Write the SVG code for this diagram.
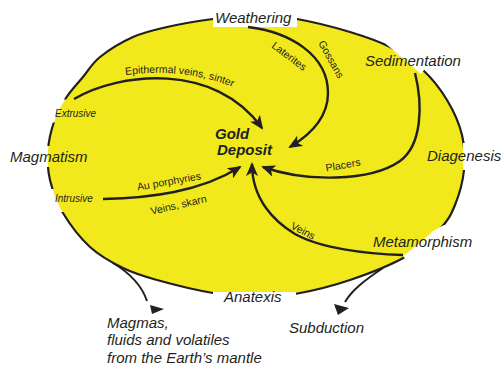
<svg xmlns="http://www.w3.org/2000/svg" width="503" height="366" viewBox="0 0 503 366">
<style>
.big{font-family:"Liberation Sans",Arial,sans-serif;font-style:italic;font-size:15px;fill:#231f20}
.sm{font-family:"Liberation Sans",Arial,sans-serif;font-size:10.5px;fill:#231f20}
.smi{font-family:"Liberation Sans",Arial,sans-serif;font-style:italic;font-size:10px;fill:#231f20}
.gold{font-family:"Liberation Sans",Arial,sans-serif;font-style:italic;font-weight:bold;font-size:15px;fill:#231f20}
.arr{fill:none;stroke:#231f20;stroke-width:2.4;marker-end:url(#ah)}
.br{fill:none;stroke:#231f20;stroke-width:2}
.wh{fill:#ffffff}
</style>
<defs>
<marker id="ah" viewBox="0 0 14 12" markerWidth="14" markerHeight="12" refX="12" refY="6" orient="auto" markerUnits="userSpaceOnUse">
<path d="M0,0 L14,6 L0,12 L3.5,6 z" fill="#231f20"/>
</marker>
<path id="shape" d="M167,27 C180.3,24 198.3,21 213,19 C227.7,17 241,15 255,15 C269,15 281.2,16.2 297,19 C312.8,21.8 334.5,27.3 350,32 C365.5,36.7 377.8,40.7 390,47 C402.2,53.3 413.5,61.2 423,70 C432.5,78.8 440.5,89.2 447,100 C453.5,110.8 459.2,123.3 462,135 C464.8,146.7 465.2,158.3 464,170 C462.8,181.7 459,195.2 455,205 C451,214.8 448.3,220.3 440,229 C431.7,237.7 420,248.5 405,257 C390,265.5 368.3,273.8 350,280 C331.7,286.2 310.8,291.2 295,294 C279.2,296.8 268.7,297.2 255,297 C241.3,296.8 229.3,295.8 213,293 C196.7,290.2 172,284.2 157,280 C142,275.8 134.2,273.5 123,268 C111.8,262.5 100,256.2 90,247 C80,237.8 69.7,224.2 63,213 C56.3,201.8 52.5,190.5 50,180 C47.5,169.5 47.3,159.7 48,150 C48.7,140.3 51,130.7 54,122 C57,113.3 61.2,105.5 66,98 C70.8,90.5 77.3,83.8 83,77 C88.7,70.2 91.7,63.7 100,57 C108.3,50.3 121.8,42 133,37 C144.2,32 153.7,30 167,27 Z"/>
<mask id="gaps" maskUnits="userSpaceOnUse" x="0" y="0" width="503" height="366">
<rect x="0" y="0" width="503" height="366" fill="#fff"/>
<rect x="30" y="99.5" width="45" height="23" fill="#000"/>
<rect x="30" y="146" width="30" height="21" fill="#000"/>
<rect x="30" y="189" width="40" height="23" fill="#000"/>
</mask>
<path id="tp1" d="M100,80 C140,70 190,68 240,90"/>
</defs>

<g id="cycle">
<use href="#shape" fill="#f1e91b"/>
<use href="#shape" fill="none" stroke="#231f20" stroke-width="2.2" mask="url(#gaps)"/>
<rect class="wh" x="213" y="5" width="84" height="22"/>
<polygon class="wh" points="386,44 421,74 424,70 470,52 470,30 380,30"/>
<rect class="wh" x="463" y="143" width="40" height="27"/>
<polygon class="wh" points="444,225 433,231 420,243 403,256 408,262 440,250 462,232"/>
<rect class="wh" x="213" y="292" width="83" height="14"/>
</g>

<g id="connectors">
<path class="arr" d="M74,99 C120,72 215,62 262,128"/>
<path class="arr" d="M248,27 C290,32 328,55 328,93 C328,118 310,135 290,147"/>
<path class="arr" d="M415,73 C423,105 422,145 400,161 C370,182 305,182 263,167"/>
<path class="arr" d="M403,255 C365,254 320,248 295,234 C275,222 252,200 252,164"/>
<path class="arr" d="M103,199 C150,198 200,192 240,167"/>
<path class="br" d="M113,263 C128,272 141,283 147,301"/>
<polygon points="150,305 164,309 152,314" fill="#231f20"/>
<path class="br" d="M383,268 C365,280 352,290 345,302"/>
<polygon points="334,304 349,308 338,315" fill="#231f20"/>
</g>

<g id="labels-arrows">
<text class="sm"><textPath href="#tp1" startOffset="26">Epithermal veins, sinter</textPath></text>
<text class="sm" text-anchor="middle" transform="translate(287,59) rotate(37)">Laterites</text>
<text class="sm" text-anchor="middle" transform="translate(328,61) rotate(61)">Gossans</text>
<text class="sm" text-anchor="middle" transform="translate(343.6,168.5) rotate(-10)">Placers</text>
<text class="sm" text-anchor="middle" transform="translate(301.4,234) rotate(28)">Veins</text>
<text class="sm" text-anchor="middle" transform="translate(169.6,185) rotate(-10)">Au porphyries</text>
<text class="sm" text-anchor="middle" transform="translate(179.3,208.4) rotate(-13)">Veins, skarn</text>
</g>

<g id="gold-deposit">
<text class="gold" x="215" y="139">Gold</text>
<text class="gold" x="217" y="155">Deposit</text>
</g>

<g id="weathering"><text class="big" x="215" y="23">Weathering</text></g>
<g id="sedimentation"><text class="big" x="365" y="66">Sedimentation</text></g>
<g id="diagenesis"><text class="big" x="427" y="161">Diagenesis</text></g>
<g id="metamorphism"><text class="big" x="373" y="247">Metamorphism</text></g>
<g id="anatexis"><text class="big" x="224" y="302">Anatexis</text></g>
<g id="magmatism"><text class="big" x="10" y="162">Magmatism</text></g>
<g id="extrusive"><text class="smi" x="55" y="117">Extrusive</text></g>
<g id="intrusive"><text class="smi" x="55" y="202">Intrusive</text></g>
<g id="subduction"><text class="big" x="289" y="333">Subduction</text></g>
<g id="magmas">
<text class="big" x="107" y="327.5">Magmas,</text>
<text class="big" x="107" y="345">fluids and volatiles</text>
<text class="big" x="107" y="362.5">from the Earth’s mantle</text>
</g>
</svg>
